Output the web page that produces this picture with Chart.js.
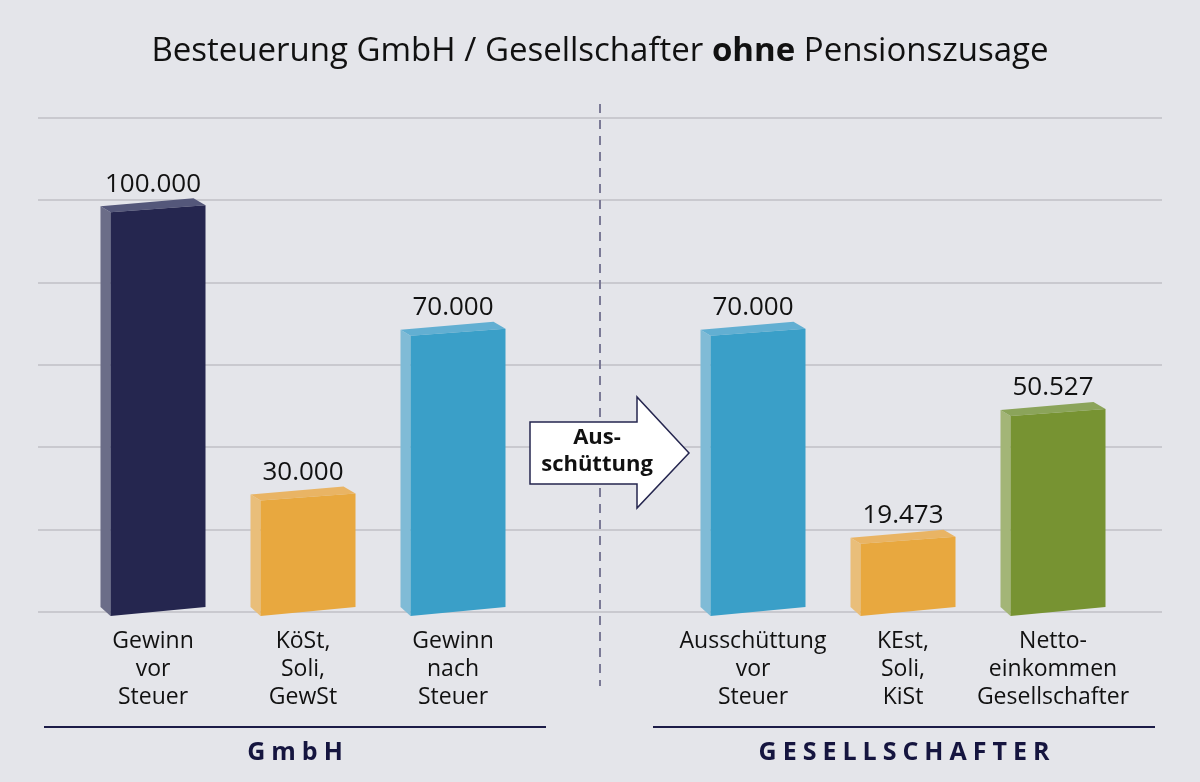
<!DOCTYPE html>
<html>
<head>
<meta charset="utf-8">
<script src="https://cdn.jsdelivr.net/npm/chart.js@4/dist/chart.umd.min.js"></script>
<style>
  html, body { margin: 0; padding: 0; background: #e4e5ea; }
  body { width: 1200px; height: 782px; position: relative; overflow: hidden; font-family: "Open Sans", sans-serif; }
  #wrap { position: absolute; left: 0; top: 0; width: 1200px; height: 782px; }
  .title { position: absolute; top: 29px; left: 0; width: 1200px; text-align: center; font-size: 33px; line-height: 40px; color: #111; }
  .group { position: absolute; top: 726px; height: 0; border-top: 2px solid #1c1c48; }
  .group span { position: absolute; top: 7px; left: 0; width: 100%; text-align: center; font-weight: bold; font-size: 25px; line-height: 30px; color: #15153f; letter-spacing: 6px; text-indent: 6px; }
</style>
</head>
<body>
<div id="wrap"><canvas id="chart" width="1200" height="782"></canvas></div>
<div class="title">Besteuerung GmbH / Gesellschafter <b>ohne</b> Pensionszusage</div>
<div class="group" style="left:44px; width:502px;"><span>GmbH</span></div>
<div class="group" style="left:653px; width:502px;"><span>GESELLSCHAFTER</span></div>
<script>
const categories = [
  ["Gewinn", "vor", "Steuer"],
  ["KöSt,", "Soli,", "GewSt"],
  ["Gewinn", "nach", "Steuer"],
  "",
  ["Ausschüttung", "vor", "Steuer"],
  ["KEst,", "Soli,", "KiSt"],
  ["Netto-", "einkommen", "Gesellschafter"]
];
const values = [100000, 30000, 70000, null, 70000, 19473, 50527];
const yTicks = [0, 20000, 40000, 60000, 80000, 100000, 120000];

// front / side / top colours per bar
const frontColors = ["#25264f", "#e8a83f", "#3a9fc8", null, "#3a9fc8", "#e8a83f", "#779332"];
const sideColors  = ["#6b6d88", "#e9be7a", "#80bbd6", null, "#80bbd6", "#e9be7a", "#a3b577"];
const topColors   = ["#54577a", "#e9b464", "#62afd2", null, "#62afd2", "#e9b464", "#8ba45a"];

const fmt = v => v.toLocaleString("de-DE");

const bars3d = {
  id: "bars3d",
  beforeDraw(chart) {
    const { ctx } = chart;
    const y = chart.scales.y;
    ctx.save();
    ctx.strokeStyle = "#c9c9cf";
    ctx.lineWidth = 2;
    yTicks.forEach(t => {
      const py = Math.round(y.getPixelForValue(t));
      ctx.beginPath();
      ctx.moveTo(38, py);
      ctx.lineTo(1162, py);
      ctx.stroke();
    });
    // divider
    ctx.strokeStyle = "#7b7a96";
    ctx.lineWidth = 2;
    ctx.setLineDash([9, 7]);
    ctx.beginPath();
    ctx.moveTo(600, 104);
    ctx.lineTo(600, 686);
    ctx.stroke();
    ctx.restore();
  },
  beforeDatasetsDraw(chart) {
    const { ctx } = chart;
    const meta = chart.getDatasetMeta(0);
    const depth = 10;
    ctx.save();
    meta.data.forEach((bar, i) => {
      if (values[i] == null) return;
      const { x, y, base, width } = bar.getProps(["x", "y", "base", "width"], true);
      const xs = x - width / 2, xf = xs + depth, x1 = x + width / 2;
      const tl = y + 12, tr = y + 5, bl = base + 4, br = base - 5;
      // side
      ctx.fillStyle = sideColors[i];
      ctx.beginPath();
      ctx.moveTo(xs, tl - 6);
      ctx.lineTo(xf, tl);
      ctx.lineTo(xf, bl);
      ctx.lineTo(xs, bl - 9);
      ctx.closePath();
      ctx.fill();
      // top
      ctx.fillStyle = topColors[i];
      ctx.beginPath();
      ctx.moveTo(xs, tl - 6);
      ctx.lineTo(x1 - 12, tr - 7);
      ctx.lineTo(x1, tr);
      ctx.lineTo(xf, tl);
      ctx.closePath();
      ctx.fill();
      // front
      ctx.fillStyle = frontColors[i];
      ctx.beginPath();
      ctx.moveTo(xf, tl);
      ctx.lineTo(x1, tr);
      ctx.lineTo(x1, br);
      ctx.lineTo(xf, bl);
      ctx.closePath();
      ctx.fill();
      // value label
      ctx.fillStyle = "#111";
      ctx.font = "26px 'Open Sans'";
      ctx.textAlign = "center";
      ctx.textBaseline = "middle";
      ctx.fillText(fmt(values[i]), x, y - 16);
    });

    // arrow in the empty slot
    const cx = 600, cy = 453;
    ctx.fillStyle = "#ffffff";
    ctx.strokeStyle = "#25264f";
    ctx.lineWidth = 1.5;
    ctx.beginPath();
    ctx.moveTo(cx - 70, cy - 31);
    ctx.lineTo(cx + 37, cy - 31);
    ctx.lineTo(cx + 37, cy - 56);
    ctx.lineTo(cx + 89, cy);
    ctx.lineTo(cx + 37, cy + 55);
    ctx.lineTo(cx + 37, cy + 31);
    ctx.lineTo(cx - 70, cy + 31);
    ctx.closePath();
    ctx.fill();
    ctx.stroke();
    ctx.fillStyle = "#111";
    ctx.font = "bold 22px 'Open Sans'";
    ctx.textAlign = "center";
    ctx.textBaseline = "middle";
    ctx.fillText("Aus-", cx - 3, cy - 15);
    ctx.fillText("schüttung", cx - 3, cy + 12);
    ctx.restore();
    return false;
  }
};

new Chart(document.getElementById("chart"), {
  type: "bar",
  data: {
    labels: categories,
    datasets: [{
      data: values,
      backgroundColor: frontColors,
      barPercentage: 0.7,
      categoryPercentage: 1
    }]
  },
  options: {
    responsive: false,
    animation: false,
    events: [],
    layout: { padding: { left: 78, right: 72, top: 118, bottom: 0 } },
    plugins: { legend: { display: false }, tooltip: { enabled: false } },
    scales: {
      x: {
        grid: { display: false },
        border: { display: false },
        ticks: {
          color: "#111",
          font: { family: "'Open Sans'", size: 23, lineHeight: 1.2 },
          padding: 8,
          maxRotation: 0,
          autoSkip: false
        },
        afterFit(scale) { scale.height = 170; }
      },
      y: {
        display: false,
        min: 0,
        max: 120000,
        ticks: { stepSize: 20000 }
      }
    }
  },
  plugins: [bars3d]
});
</script>
</body>
</html>
